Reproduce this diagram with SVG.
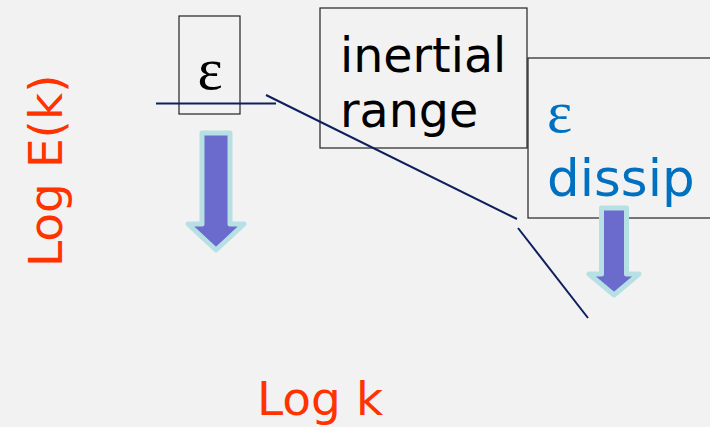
<svg xmlns="http://www.w3.org/2000/svg" width="710" height="427" viewBox="0 0 710 427">
<style>
.box{fill:none;stroke:#222;stroke-width:1.2}
.sans{font-family:"DejaVu Sans",Verdana,sans-serif}
.serif{font-family:"Liberation Serif","Times New Roman",serif}
.red{fill:#ff3300;font-size:47px}
.conn{stroke:#0d1f5c;stroke-width:2;fill:none}
.arrow{fill:#6b6bce;stroke:#b7e0e4;stroke-width:5;stroke-linejoin:round}
</style>
<rect width="710" height="427" fill="#f2f2f2"/>
<g id="eps-source">
<rect class="box" x="179" y="16" width="61" height="98"/>
<text class="serif" x="210" y="89" font-size="60" text-anchor="middle" fill="#000">ε</text>
</g>
<g id="inertial-range">
<rect class="box" x="320" y="8" width="207" height="140"/>
<text class="sans" x="340" y="72" font-size="47.5" fill="#000">inertial</text>
<text class="sans" x="340" y="127" font-size="47.5" fill="#000">range</text>
</g>
<g id="eps-dissip">
<rect class="box" x="528" y="58" width="190" height="160"/>
<text class="serif" x="547" y="132" font-size="60" fill="#0070c0">ε</text>
<text class="sans" x="547" y="196" font-size="51.5" fill="#0070c0">dissip</text>
</g>
<g id="arrow-in">
<path class="arrow" d="M202,133 H230 V224 H244 L216,250 L188,224 H202 Z"/>
</g>
<g id="arrow-out">
<path class="arrow" d="M601.5,208 H626.5 V274 H639 L614,295 L589,274 H601.5 Z"/>
</g>
<g id="connectors">
<line class="conn" x1="156" y1="103.5" x2="276" y2="103.5"/>
<line class="conn" x1="266" y1="95" x2="517" y2="219"/>
<line class="conn" x1="518" y1="228" x2="588" y2="318"/>
</g>
<g id="axis-labels">
<text class="sans red" transform="translate(62,267) rotate(-90)">Log E(k)</text>
<text class="sans red" x="257" y="415">Log k</text>
</g>
</svg>
